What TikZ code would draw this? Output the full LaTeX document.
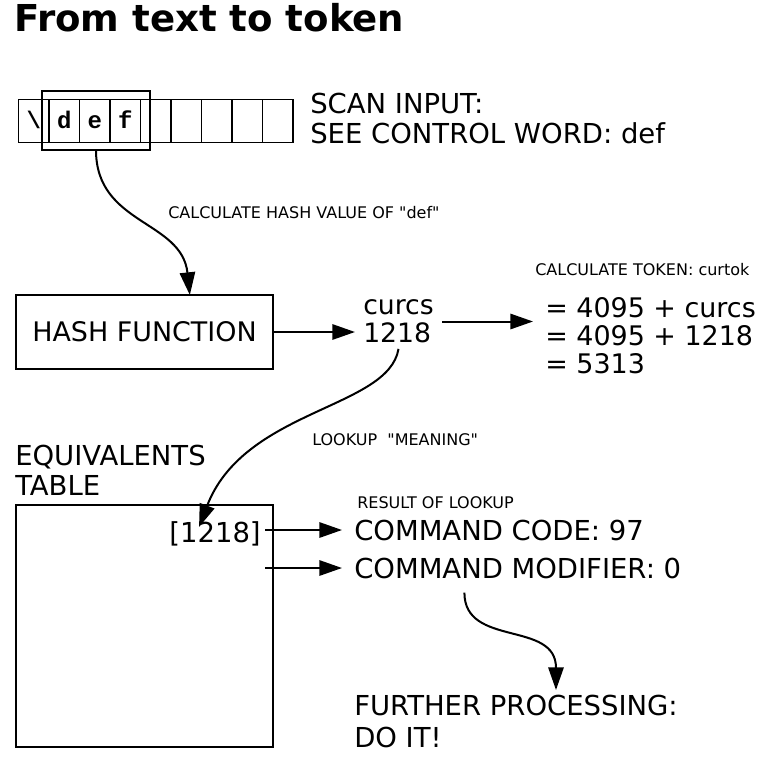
\documentclass[tikz,border=0pt]{standalone}
\usepackage{fontspec}
\setmainfont{DejaVu Sans}[Ligatures=TeXOff]
\newfontfamily\cellfont{Liberation Mono Bold}
\usetikzlibrary{arrows.meta,positioning}
\tikzset{
  txt/.style={inner sep=0pt,anchor=base west,font=\fontsize{20.6}{22.5}\selectfont},
  note/.style={inner sep=0pt,anchor=base west,font=\fontsize{12}{14}\selectfont},
  block/.style={txt,align=left,anchor=north west},
  box/.style={draw,line width=1.5pt,inner sep=0pt,outer sep=0pt},
  cell/.style={draw,line width=1.1pt,minimum width=22.9pt,minimum height=32.25pt,
               inner sep=0pt,outer sep=0pt,text height=10.5pt,text depth=0pt,
               font=\cellfont\fontsize{18}{18}\selectfont},
  arrow/.style={-{Triangle[length=17pt,width=11.5pt]},line width=1.5pt},
}

\begin{document}
\begin{tikzpicture}[x=0.75pt,y=-0.75pt]
\useasboundingbox (0,0) rectangle (771,764);
\node[inner sep=0pt,anchor=base west,font=\bfseries\fontsize{27.8}{30}\selectfont] (title) at (14,31) {From text to token};
% input buffer
\foreach \ch [count=\i] in {\textbackslash,d,e,f,{},{},{},{},{}}
  \node[cell] (c\i) at ({18.5+30.5*(\i-0.5)},121) {\ch};
\node[draw,line width=1.1pt,minimum width=81pt,minimum height=44.25pt,inner sep=0pt,outer sep=0pt] (frame) at (96,120.5) {};
\node[block] (scan) at (310,93) {SCAN INPUT:\\SEE CONTROL WORD: def};
\node[note] (hashlbl) at (168,218) {CALCULATE HASH VALUE OF "def"};
\node[box,minimum width=192.75pt,minimum height=55.5pt,font=\fontsize{20.2}{22.5}\selectfont] (hash) at (144.5,332) {HASH FUNCTION};
\node[txt,align=left,anchor=west,inner xsep=6pt,inner ysep=4pt,font=\fontsize{20}{21.2}\selectfont] (cs) at (355,321.5) {curcs\\1218};
\node[note] (toklbl) at (535,275) {CALCULATE TOKEN: curtok};
\node[block,font=\fontsize{20.2}{21.2}\selectfont] (eqn) at (545,297) {= 4095 + curcs\\= 4095 + 1218\\= 5313};
% table lookup
\node[block] (eqlbl) at (15,445) {EQUIVALENTS\\TABLE};
\node[box,minimum width=192.75pt,minimum height=181.5pt] (tbl) at (144.5,626) {};
\node[txt,anchor=base east,inner xsep=3pt] (idx) at (265,542) {[1218]};
\node[note] (looklbl) at (312,445) {LOOKUP\ \ "MEANING"};
\node[note] (reslbl) at (357,508) {RESULT OF LOOKUP};
\node[txt] (code) at (354,540) {COMMAND CODE: 97};
\node[txt] (mod) at (354,578) {COMMAND MODIFIER: 0};
\node[block,font=\fontsize{20.6}{23.7}\selectfont] (further) at (354,695) {FURTHER PROCESSING:\\DO IT!};
% connectors
\draw[arrow] (frame.south) .. controls +(0,75) and +(-8,-75) .. ([xshift=34pt]hash.north);
\draw[arrow] (hash.east) -- (hash.east -| cs.west);
\draw[arrow,shorten >=9pt] (cs.east) -- (cs.east -| eqn.west);
\draw[arrow] (cs.south) .. controls +(-10,60) and +(45,-118) .. ([xshift=-12pt,yshift=-4.5pt]idx.north);
\draw[arrow,shorten >=9pt] (idx.east |- code.west) -- (code.west);
\draw[arrow,shorten >=9pt] (idx.east |- mod.west) -- (mod.west);
\draw[arrow] ([xshift=-40pt,yshift=-10.5pt]mod.south) .. controls +(0,55) and +(0,-70) .. ([xshift=30pt,yshift=3.75pt]further.north);
\end{tikzpicture}
\end{document}
